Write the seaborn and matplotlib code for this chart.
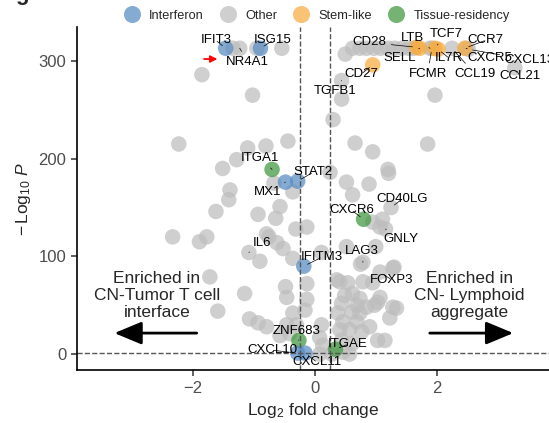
import pandas as pd
import matplotlib.pyplot as plt
import seaborn as sns

# labelled genes
gene_names = ["IFIT3", "ISG15", "NR4A1", "SELL", "CD28", "LTB", "TCF7", "IL7R",
              "FCMR", "CCL19", "CXCR5", "CCR7", "CXCL13", "CCL21", "CD27", "TGFB1",
              "ITGA1", "STAT2", "MX1", "CD40LG", "CXCR6", "GNLY", "LAG3", "IL6",
              "IFITM3", "FOXP3", "ZNF683", "CXCL10", "CXCL11", "ITGAE"]
gene_lfc = [-1.46, -0.89, -1.23, 1.72, 1.67, 1.89, 1.97, 2.02,
            1.92, 2.25, 2.48, 2.46, 2.52, 3.28, 0.95, 0.44,
            -0.70, -0.28, -0.48, 1.25, 0.80, 1.16, 0.79, -1.08,
            -0.18, 1.07, -0.26, -0.28, -0.16, 0.34]
gene_logp = [313, 313, 313, 313, 314, 313, 313, 312,
             313, 313, 313, 313, 312, 293, 296, 280,
             189, 177, 176, 150, 138, 128, 94, 104,
             90, 84, 14, 1, 1, 5]
gene_group = ["Interferon", "Interferon", "Other", "Stem-like", "Stem-like", "Other",
              "Stem-like", "Stem-like", "Other", "Other", "Other", "Stem-like", "Other",
              "Other", "Stem-like", "Other", "Tissue-residency", "Interferon", "Interferon",
              "Other", "Tissue-residency", "Other", "Other", "Other", "Interferon", "Other",
              "Tissue-residency", "Interferon", "Interferon", "Tissue-residency"]

# label positions (text centre)
label_x = [-1.62, -0.69, -1.10, 1.39, 0.90, 1.61, 2.15, 2.20,
           1.85, 2.62, 2.87, 2.79, 3.52, 3.36, 0.77, 0.33,
           -0.90, -0.03, -0.77, 1.44, 0.61, 1.41, 0.77, -0.87,
           0.11, 1.26, -0.30, -0.70, 0.03, 0.54]
label_y = [321, 321, 299, 303, 319, 324, 328, 303,
           287, 287, 303, 321, 301, 285, 287, 269,
           201, 186, 166, 159, 147, 118, 106, 114,
           99, 76, 24, 4, -8, 10]

# unlabelled genes
other_lfc = [-1.34, -0.95, -0.54, 0.62, 0.74, 0.85, 0.97, 1.08, 1.20, 1.31, 1.43, 1.54, 1.62,
             0.50, 0.44, 1.97, 0.30, -1.85, -1.02,
             -2.23, -1.10, -0.80, -0.44, -1.28, -1.51, -0.67, -0.36, -1.39, -1.41, -0.57,
             -1.62, -0.93, -0.64, -0.31, -0.13, -0.79, -0.75, -2.33, -1.89, -1.77, -0.62,
             -0.52, -0.90, -0.36, 0.11, 0.25,
             -1.72, -1.15, -0.48, -0.13, -0.13, -0.46, -1.59, -1.07, -0.93, -0.79, -0.46,
             -0.36, -0.41, -0.57, -0.30, -0.16,
             0.08, 0.11, 0.13, 0.08, 0.28, 0.46, 0.57,
             0.36, 0.54, 0.41, 0.79, 0.95, 0.49, 0.62, 0.74, 0.44, 0.69, 0.85, 1.03, 1.28,
             0.38, 0.61, 0.74, 0.46, 0.69, 0.90, 1.23, 0.41, 0.57, 0.77, 0.44, 0.62, 1.03,
             1.15, 1.07, 0.98, 1.34, 1.28, 0.75, 1.00, 0.52, 1.30,
             0.66, 0.95, 1.85, 1.20, 1.21, 0.52, 0.89, 0.62, 0.95, 1.11, 1.07]
other_logp = [313, 313, 313, 313, 313, 313, 313, 313, 313, 313, 313, 313, 313,
              307, 261, 265, 240, 286, 265,
              215, 211, 213, 218, 199, 190, 175, 166, 168, 158, 151,
              146, 143, 139, 128, 130, 123, 120, 120, 115, 120, 114,
              108, 95, 98, 104, 186,
              79, 62, 69, 72, 56, 58, 44, 36, 32, 28, 30,
              42, 21, 19, 30, 45,
              17, 30, 9, 0, 0, 2, 0,
              76, 73, 74, 74, 73, 60, 62, 57, 52, 50, 48, 53, 48,
              42, 43, 42, 33, 33, 28, 37, 25, 25, 23, 14, 11, 14,
              14, 58, 50, 47, 88, 92, 110, 110, 89,
              216, 207, 215, 189, 185, 176, 174, 163, 135, 138, 130]

groups = ["Interferon", "Other", "Stem-like", "Tissue-residency"]
colors = {"Interferon": "#588BC3", "Other": "#BDBDBD",
          "Stem-like": "#F7AB40", "Tissue-residency": "#3F963F"}

df = pd.concat([
    pd.DataFrame({"lfc": other_lfc, "logp": other_logp, "group": "Other"}),
    pd.DataFrame({"lfc": gene_lfc, "logp": gene_logp, "group": gene_group}),
], ignore_index=True)
# greys underneath, coloured genes on top
df["order"] = (df["group"] != "Other").astype(int)
df = df.sort_values("order", kind="stable")

sns.set_style("ticks")
plt.rcParams["font.family"] = ["Liberation Sans", "DejaVu Sans"]
plt.rcParams["mathtext.fontset"] = "custom"
plt.rcParams["mathtext.rm"] = "Liberation Sans"
plt.rcParams["mathtext.it"] = "Liberation Sans:italic"

fig, ax = plt.subplots(figsize=(5.49, 4.23), dpi=100)
fig.subplots_adjust(left=0.140, right=1.0, bottom=0.125, top=0.936)

sns.scatterplot(data=df, x="lfc", y="logp", hue="group", hue_order=groups,
                palette=colors, s=125, alpha=0.72, linewidth=0, ax=ax)

ax.axvline(-0.25, color="#555555", ls="--", lw=1)
ax.axvline(0.25, color="#555555", ls="--", lw=1)
ax.axhline(1.3, color="#555555", ls="--", lw=1)

for name, gx, gy, tx, ty in zip(gene_names, gene_lfc, gene_logp, label_x, label_y):
    ax.annotate(name, xy=(gx, gy), xytext=(tx, ty), ha="center", va="center",
                fontsize=9.5, color="black",
                arrowprops=dict(arrowstyle="-", lw=0.5, color="black",
                                shrinkA=1, shrinkB=3))

# red arrow pointing at NR4A1
ax.annotate("", xy=(-1.55, 302), xytext=(-1.86, 302),
            arrowprops=dict(arrowstyle="-|>", color="red", lw=1.3, mutation_scale=10))

# enrichment arrows and text
ax.annotate("", xy=(-3.33, 21.5), xytext=(-1.89, 21.5),
            arrowprops=dict(arrowstyle="-|>,head_length=1.2,head_width=0.5",
                            color="black", lw=2, mutation_scale=14))
ax.annotate("", xy=(3.30, 21.5), xytext=(1.84, 21.5),
            arrowprops=dict(arrowstyle="-|>,head_length=1.2,head_width=0.5",
                            color="black", lw=2, mutation_scale=14))
ax.text(-2.59, 60, "Enriched in\nCN-Tumor T cell\ninterface", ha="center", va="center",
        fontsize=12.5, linespacing=1.15)
ax.text(2.54, 60, "Enriched in\nCN- Lymphoid\naggregate", ha="center", va="center",
        fontsize=12.5, linespacing=1.15)

ax.set_xlim(-3.9, 3.84)
ax.set_ylim(-16.4, 334.7)
ax.set_xticks([-2, 0, 2])
ax.set_yticks([0, 100, 200, 300])
ax.set_xlabel(r"$\mathrm{Log}_{2}$ fold change", fontsize=12.5)
ax.set_ylabel(r"$-\,\mathrm{Log}_{10}\ \mathit{P}$", fontsize=12.5)
ax.tick_params(labelsize=12, labelcolor="#4D4D4D", length=4, width=1.1, color="#333333")
sns.despine(ax=ax)
for sp in ["left", "bottom"]:
    ax.spines[sp].set_linewidth(1.2)
    ax.spines[sp].set_color("black")

sns.move_legend(ax, "lower center", bbox_to_anchor=(0.503, 1.0), ncol=4, frameon=False,
                title=None, fontsize=9.2, handletextpad=0.35, columnspacing=0.9,
                borderaxespad=0.0, markerscale=1.1)

fig.text(0.028, 1.0, "g", fontsize=16, fontweight="bold", va="baseline")

plt.savefig("out.png", dpi=100)
